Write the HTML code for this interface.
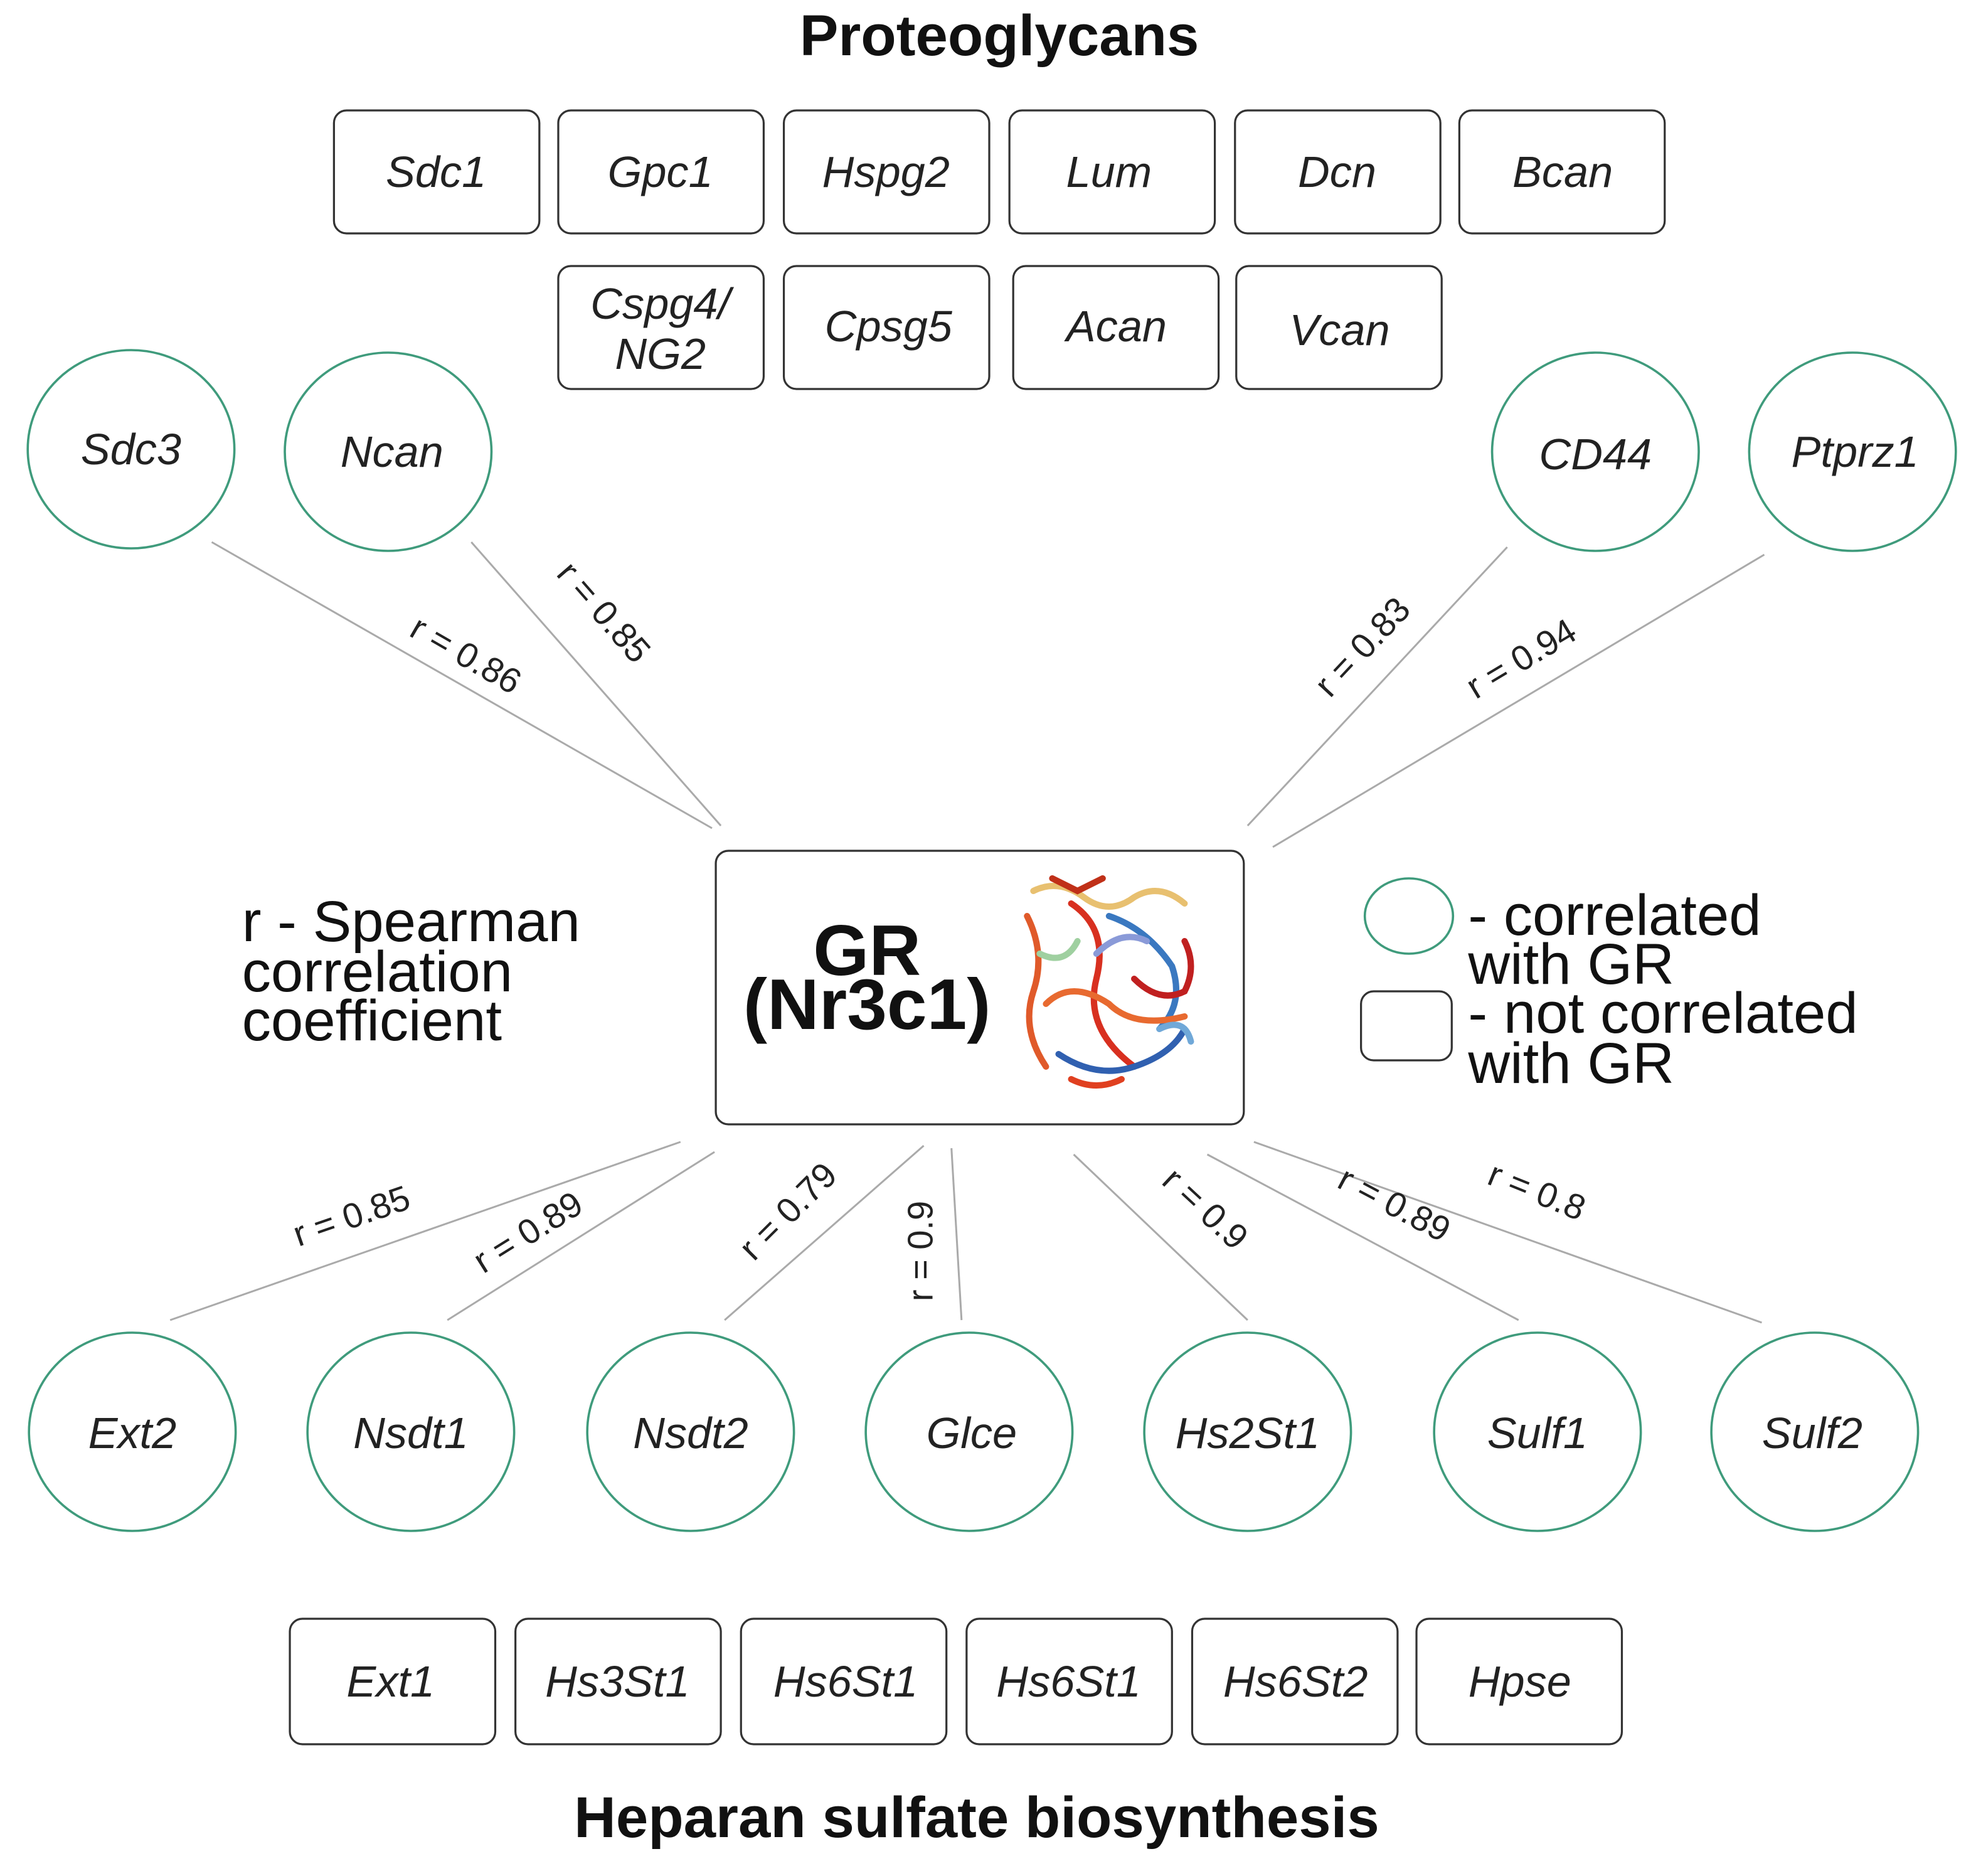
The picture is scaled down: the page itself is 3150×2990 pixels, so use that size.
<!DOCTYPE html>
<html><head><meta charset="utf-8"><style>
html,body{margin:0;padding:0;background:#fff;}
svg{display:block;}
text{font-family:"Liberation Sans",Arial,sans-serif;}
.g{font-style:italic;font-size:35px;text-anchor:middle;fill:#222;}
.r{font-size:28px;text-anchor:middle;fill:#222;}
.bx{fill:#fff;stroke:#333;stroke-width:1.6;}
.c{fill:#fff;stroke:#3f9b7c;stroke-width:1.8;}
.l{stroke:#aaa;stroke-width:1.5;}
.big{font-size:46px;fill:#111;}
</style></head><body>
<svg width="3150" height="2990" viewBox="0 0 1568 1495" preserveAspectRatio="none" xmlns="http://www.w3.org/2000/svg">
<text x="793" y="44" text-anchor="middle" font-size="46" font-weight="bold" fill="#111">Proteoglycans</text>
<text x="775" y="1464" text-anchor="middle" font-size="46" font-weight="bold" fill="#111">Heparan sulfate biosynthesis</text>

<rect class="bx" x="265" y="88" width="163" height="98" rx="10"/><text class="g" x="346" y="149">Sdc1</text>
<rect class="bx" x="443" y="88" width="163" height="98" rx="10"/><text class="g" x="524" y="149">Gpc1</text>
<rect class="bx" x="622" y="88" width="163" height="98" rx="10"/><text class="g" x="703" y="149">Hspg2</text>
<rect class="bx" x="801" y="88" width="163" height="98" rx="10"/><text class="g" x="880" y="149">Lum</text>
<rect class="bx" x="980" y="88" width="163" height="98" rx="10"/><text class="g" x="1061" y="149">Dcn</text>
<rect class="bx" x="1158" y="88" width="163" height="98" rx="10"/><text class="g" x="1240" y="149">Bcan</text>
<rect class="bx" x="443" y="212" width="163" height="98" rx="10"/><text class="g" x="524" y="254">Cspg4/</text><text class="g" x="524" y="294">NG2</text>
<rect class="bx" x="622" y="212" width="163" height="98" rx="10"/><text class="g" x="705" y="272">Cpsg5</text>
<rect class="bx" x="804" y="212" width="163" height="98" rx="10"/><text class="g" x="886" y="272">Acan</text>
<rect class="bx" x="981" y="212" width="163" height="98" rx="10"/><text class="g" x="1063" y="275">Vcan</text>

<rect class="bx" x="230" y="1290" width="163" height="100" rx="10"/><text class="g" x="310" y="1352">Ext1</text>
<rect class="bx" x="409" y="1290" width="163" height="100" rx="10"/><text class="g" x="490" y="1352">Hs3St1</text>
<rect class="bx" x="588" y="1290" width="163" height="100" rx="10"/><text class="g" x="671" y="1352">Hs6St1</text>
<rect class="bx" x="767" y="1290" width="163" height="100" rx="10"/><text class="g" x="848" y="1352">Hs6St1</text>
<rect class="bx" x="946" y="1290" width="163" height="100" rx="10"/><text class="g" x="1028" y="1352">Hs6St2</text>
<rect class="bx" x="1124" y="1290" width="163" height="100" rx="10"/><text class="g" x="1206" y="1352">Hpse</text>

<line class="l" x1="168" y1="432" x2="565" y2="660"/>
<line class="l" x1="374" y1="432" x2="572" y2="658"/>
<line class="l" x1="1196" y1="436" x2="990" y2="658"/>
<line class="l" x1="1400" y1="442" x2="1010" y2="675"/>
<line class="l" x1="135" y1="1052" x2="540" y2="910"/>
<line class="l" x1="355" y1="1052" x2="567" y2="918"/>
<line class="l" x1="575" y1="1052" x2="733" y2="913"/>
<line class="l" x1="763" y1="1052" x2="755" y2="915"/>
<line class="l" x1="990" y1="1052" x2="852" y2="920"/>
<line class="l" x1="1205" y1="1052" x2="958" y2="920"/>
<line class="l" x1="1398" y1="1054" x2="995" y2="910"/>

<text class="r" transform="translate(365,530) rotate(30)">r =  0.86</text>
<text class="r" transform="translate(472,494) rotate(49)">r = 0.85</text>
<text class="r" transform="translate(1088,522) rotate(-47)">r = 0.83</text>
<text class="r" transform="translate(1212,533) rotate(-31)">r = 0.94</text>
<text class="r" transform="translate(282,978) rotate(-19)">r =  0.85</text>
<text class="r" transform="translate(424,990) rotate(-32)">r = 0.89</text>
<text class="r" transform="translate(632,972) rotate(-45)">r = 0.79</text>
<text class="r" transform="translate(740,997) rotate(-90)">r = 0.9</text>
<text class="r" transform="translate(950,970) rotate(43)">r =   0.9</text>
<text class="r" transform="translate(1102,968) rotate(28)">r = 0.89</text>
<text class="r" transform="translate(1216,958) rotate(22)">r =   0.8</text>

<ellipse class="c" cx="104" cy="358" rx="82" ry="79"/><text class="g" x="104" y="370">Sdc3</text>
<ellipse class="c" cx="308" cy="360" rx="82" ry="79"/><text class="g" x="311" y="372">Ncan</text>
<ellipse class="c" cx="1266" cy="360" rx="82" ry="79"/><text class="g" x="1266" y="374">CD44</text>
<ellipse class="c" cx="1470" cy="360" rx="82" ry="79"/><text class="g" x="1472" y="372">Ptprz1</text>
<ellipse class="c" cx="105" cy="1141" rx="82" ry="79"/><text class="g" x="105" y="1154">Ext2</text>
<ellipse class="c" cx="326" cy="1141" rx="82" ry="79"/><text class="g" x="326" y="1154">Nsdt1</text>
<ellipse class="c" cx="548" cy="1141" rx="82" ry="79"/><text class="g" x="548" y="1154">Nsdt2</text>
<ellipse class="c" cx="769" cy="1141" rx="82" ry="79"/><text class="g" x="771" y="1154">Glce</text>
<ellipse class="c" cx="990" cy="1141" rx="82" ry="79"/><text class="g" x="990" y="1154">Hs2St1</text>
<ellipse class="c" cx="1220" cy="1141" rx="82" ry="79"/><text class="g" x="1220" y="1154">Sulf1</text>
<ellipse class="c" cx="1440" cy="1141" rx="82" ry="79"/><text class="g" x="1438" y="1154">Sulf2</text>

<rect class="bx" x="568" y="678" width="419" height="218" rx="10"/>
<text x="688" y="777" text-anchor="middle" font-size="57" font-weight="bold" fill="#111">GR</text>
<text x="688" y="820" text-anchor="middle" font-size="57" font-weight="bold" fill="#111">(Nr3c1)</text>
<g fill="none" stroke-width="5" stroke-linecap="round">
<path d="M820 710 q20 -10 40 5 q20 15 40 0 q20 -12 40 5" stroke="#e8c070"/>
<path d="M815 730 q15 30 5 60 q-10 30 10 60" stroke="#e05a2a"/>
<path d="M850 720 q30 20 20 60 q-10 40 30 70" stroke="#d83020"/>
<path d="M880 730 q30 10 50 40 q10 30 -10 50" stroke="#3a78c0"/>
<path d="M900 780 q20 20 40 10 q10 -20 0 -40" stroke="#c02020"/>
<path d="M830 800 q20 -20 50 0 q20 20 60 10" stroke="#e86a30"/>
<path d="M840 840 q30 20 60 10 q30 -10 40 -30" stroke="#3060b0"/>
<path d="M825 760 q20 10 30 -10" stroke="#9fd0a0"/>
<path d="M870 760 q20 -20 40 -10" stroke="#8a9ad8"/>
<path d="M850 860 q20 10 40 0" stroke="#e04020"/>
<path d="M920 820 q20 -10 25 10" stroke="#70a8d8"/>
<path d="M835 700 l20 10 l20 -10" stroke="#c03018"/>
</g>

<ellipse class="c" cx="1118" cy="730" rx="35" ry="30"/>
<rect class="bx" x="1080" y="790" width="72" height="55" rx="10"/>
<text class="big" x="1165" y="745">- correlated</text>
<text class="big" x="1165" y="784">with GR</text>
<text class="big" x="1165" y="823">- not correlated</text>
<text class="big" x="1165" y="863">with GR</text>

<text class="big" x="192" y="750">r - Spearman</text>
<text class="big" x="192" y="790">correlation</text>
<text class="big" x="192" y="829">coefficient</text>
</svg>
</body></html>
